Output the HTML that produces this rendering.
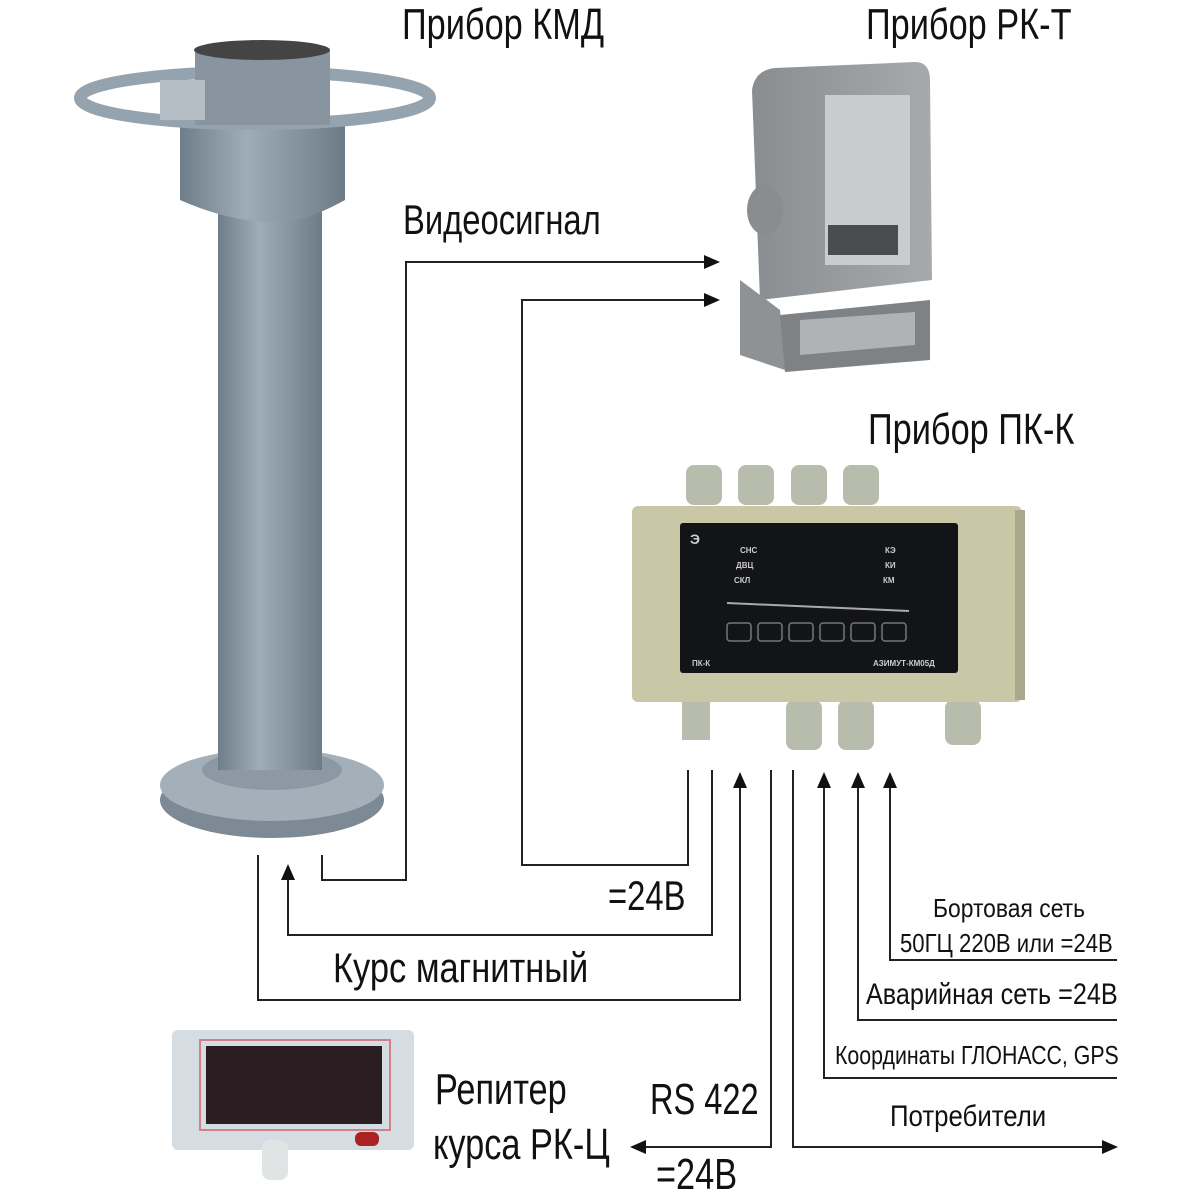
<!DOCTYPE html>
<html><head><meta charset="utf-8"><style>
body{margin:0;width:1200px;height:1200px;background:#fff;position:relative;overflow:hidden;font-family:"Liberation Sans",sans-serif}
.t{position:absolute;white-space:nowrap;color:#111;transform-origin:0 0;transform:scaleX(0.78)}
.a{position:absolute}
</style></head><body>
<svg class="a" style="left:0;top:0" width="1200" height="1200" viewBox="0 0 1200 1200">
<defs>
<linearGradient id="col" x1="0" x2="1"><stop offset="0" stop-color="#6f7e8a"/><stop offset=".4" stop-color="#9eadb8"/><stop offset="1" stop-color="#6d7b87"/></linearGradient>
<linearGradient id="rk" x1="0" x2="1"><stop offset="0" stop-color="#8a8d90"/><stop offset="1" stop-color="#a7aaad"/></linearGradient>
</defs>
<ellipse cx="272" cy="800" rx="112" ry="38" fill="#7d8a95"/>
<ellipse cx="272" cy="785" rx="112" ry="36" fill="#a3b0ba"/>
<ellipse cx="272" cy="770" rx="70" ry="20" fill="#8c99a4"/>
<rect x="218" y="200" width="104" height="570" fill="url(#col)"/>
<path d="M180 120 L345 120 L345 200 Q300 225 272 222 Q230 222 180 200Z" fill="url(#col)"/>
<ellipse cx="255" cy="98" rx="175" ry="26" fill="none" stroke="#95a3ae" stroke-width="12"/>
<rect x="195" y="50" width="135" height="75" fill="#8895a0"/>
<ellipse cx="262" cy="50" rx="68" ry="10" fill="#444"/>
<rect x="160" y="80" width="45" height="40" fill="#b5bec5"/>
<path d="M752 90 Q755 70 775 68 L915 62 Q930 62 930 80 L932 280 L760 300 Z" fill="url(#rk)"/>
<rect x="825" y="95" width="85" height="170" fill="#c9cbcd"/>
<rect x="828" y="225" width="70" height="30" fill="#4a4c4e"/>
<ellipse cx="765" cy="210" rx="18" ry="25" fill="#8a8d90"/>
<path d="M740 280 L780 310 L785 370 L740 355Z" fill="#8f9295"/>
<path d="M780 315 L930 300 L930 360 L785 372Z" fill="#7f8285"/>
<path d="M800 320 L915 312 L915 345 L800 355Z" fill="#b0b3b5"/>
<g fill="#b8bcad">
<rect x="686" y="465" width="36" height="40" rx="8"/><rect x="738" y="465" width="36" height="40" rx="8"/><rect x="791" y="465" width="36" height="40" rx="8"/><rect x="843" y="465" width="36" height="40" rx="8"/>
<rect x="682" y="700" width="28" height="40"/><rect x="786" y="700" width="36" height="50" rx="8"/><rect x="838" y="700" width="36" height="50" rx="8"/><rect x="945" y="700" width="36" height="45" rx="8"/>
</g>
<rect x="632" y="506" width="390" height="196" rx="6" fill="#c9c7a6"/>
<rect x="1015" y="510" width="10" height="190" fill="#a9a88c"/>
<rect x="680" y="523" width="278" height="150" rx="3" fill="#121418"/>
<line x1="727" y1="603" x2="909" y2="611" stroke="#aaa" stroke-width="2"/>
<g fill="none" stroke="#777" stroke-width="1.5">
<rect x="727" y="623" width="24" height="18" rx="3"/><rect x="758" y="623" width="24" height="18" rx="3"/><rect x="789" y="623" width="24" height="18" rx="3"/><rect x="820" y="623" width="24" height="18" rx="3"/><rect x="851" y="623" width="24" height="18" rx="3"/><rect x="882" y="623" width="24" height="18" rx="3"/>
</g>
<g fill="#ccc" font-size="8" font-weight="bold"><text x="740" y="553">СНС</text><text x="736" y="568">ДВЦ</text><text x="734" y="583">СКЛ</text><text x="885" y="553">КЭ</text><text x="885" y="568">КИ</text><text x="883" y="583">КМ</text><text x="692" y="666">ПК-К</text><text x="873" y="666">АЗИМУТ-КМ05Д</text><text x="690" y="544" font-size="14">Э</text></g>
<rect x="172" y="1030" width="242" height="120" rx="6" fill="#d5dde2"/>
<rect x="200" y="1040" width="190" height="90" fill="none" stroke="#d08088" stroke-width="2"/>
<rect x="206" y="1046" width="176" height="78" fill="#2a1e22"/>
<rect x="262" y="1140" width="26" height="40" rx="8" fill="#e1e4e4"/>
<rect x="355" y="1132" width="24" height="14" rx="6" fill="#a22"/>
<g fill="none" stroke="#222" stroke-width="2">
<polyline points="322,855 322,880 406,880 406,262 708,262"/>
<polyline points="688,770 688,865 522,865 522,300 708,300"/>
<polyline points="712,770 712,935 288,935 288,876"/>
<polyline points="258,855 258,1000 740,1000 740,784"/>
<polyline points="771,770 771,1147 642,1147"/>
<polyline points="793,770 793,1147 1106,1147"/>
<polyline points="824,784 824,1078 1117,1078"/>
<polyline points="858,784 858,1020 1117,1020"/>
<polyline points="890,784 890,960 1117,960"/>
</g>
<g fill="#111">
<polygon points="720,262 704,255 704,269"/>
<polygon points="720,300 704,293 704,307"/>
<polygon points="288,864 281,880 295,880"/>
<polygon points="740,772 733,788 747,788"/>
<polygon points="824,772 817,788 831,788"/>
<polygon points="858,772 851,788 865,788"/>
<polygon points="890,772 883,788 897,788"/>
<polygon points="630,1147 646,1140 646,1154"/>
<polygon points="1118,1147 1102,1140 1102,1154"/>
</g>
</svg>
<div class="t" style="left:402px;top:0px;font-size:44px">Прибор КМД</div>
<div class="t" style="left:866px;top:0px;font-size:44px">Прибор РК-Т</div>
<div class="t" style="left:403px;top:196px;font-size:42px">Видеосигнал</div>
<div class="t" style="left:868px;top:405px;font-size:44px">Прибор ПК-К</div>
<div class="t" style="left:608px;top:872px;font-size:42px">=24В</div>
<div class="t" style="left:333px;top:944px;font-size:42px;transform:scaleX(0.82)">Курс магнитный</div>
<div class="t" style="left:933px;top:893px;font-size:26px;transform:scaleX(0.88)">Бортовая сеть</div>
<div class="t" style="left:900px;top:928px;font-size:26px;transform:scaleX(0.85)">50ГЦ 220В или =24В</div>
<div class="t" style="left:866px;top:978px;font-size:30px;transform:scaleX(0.84)">Аварийная сеть =24В</div>
<div class="t" style="left:835px;top:1040px;font-size:26px;transform:scaleX(0.82)">Координаты ГЛОНАСС, GPS</div>
<div class="t" style="left:890px;top:1100px;font-size:30px;transform:scaleX(0.86)">Потребители</div>
<div class="t" style="left:650px;top:1075px;font-size:44px;transform:scaleX(0.74)">RS 422</div>
<div class="t" style="left:435px;top:1065px;font-size:44px">Репитер</div>
<div class="t" style="left:433px;top:1120px;font-size:44px">курса РК-Ц</div>
<div class="t" style="left:656px;top:1150px;font-size:44px">=24В</div>
</body></html>
